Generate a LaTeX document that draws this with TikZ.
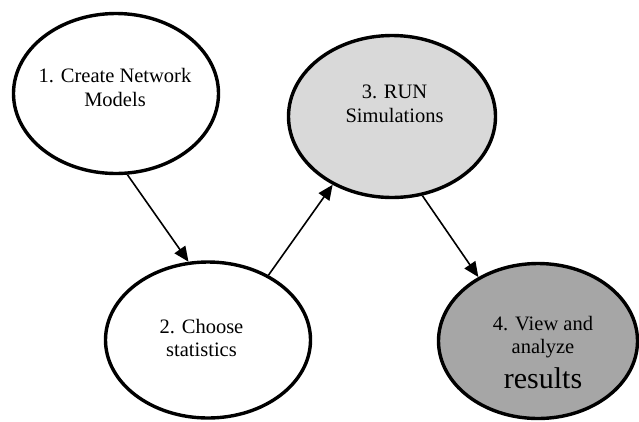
\documentclass[tikz,border=0pt]{standalone}
\usepackage{fontspec}
\setmainfont{Liberation Serif}
\usetikzlibrary{shapes.geometric,arrows.meta}
\definecolor{lightfill}{HTML}{D9D9D9}
\definecolor{darkfill}{HTML}{A6A6A6}
\begin{document}
\begin{tikzpicture}[x=1pt,y=-1pt,
  stage/.style={ellipse, draw=black, line width=3.4pt, inner sep=0pt},
  lbl/.style={anchor=base, inner sep=0pt, font=\fontsize{20.5}{24}\selectfont},
  biglbl/.style={anchor=base, inner sep=0pt, font=\fontsize{30}{34}\selectfont},
  flow/.style={line width=1.6pt, -{Triangle[length=15pt,width=13pt]}}]
\useasboundingbox (0,0) rectangle (639,421);
\node[stage, minimum width=205pt, minimum height=160pt] (e1) at (116,93.5) {};
\node[stage, minimum width=205pt, minimum height=156pt] (e2) at (208,340) {};
\node[stage, fill=lightfill, minimum width=207pt, minimum height=162pt] (e3) at (392,116.5) {};
\node[stage, fill=darkfill, minimum width=199pt, minimum height=155pt] (e4) at (538,341) {};
\node[lbl] (t1a) at (115,82.7) {1. Create Network};
\node[lbl] (t1b) at (115,106) {Models};
\node[lbl] (t2a) at (201.5,333.5) {2. Choose};
\node[lbl] (t2b) at (201.5,356) {statistics};
\node[lbl] (t3a) at (394.5,98) {3. RUN};
\node[lbl] (t3b) at (394.5,122) {Simulations};
\node[lbl] (t4a) at (543,330) {4. View and};
\node[lbl] (t4b) at (543,353) {analyze};
\node[biglbl] (t4c) at (543,388) {results};
\draw[flow] (e1.-82.3) -- (e2.104.7);
\draw[flow] (e2.47.3) -- (e3.-131.3);
\draw[flow] (e3.-69.8) -- (e4.133.2);
\end{tikzpicture}
\end{document}
